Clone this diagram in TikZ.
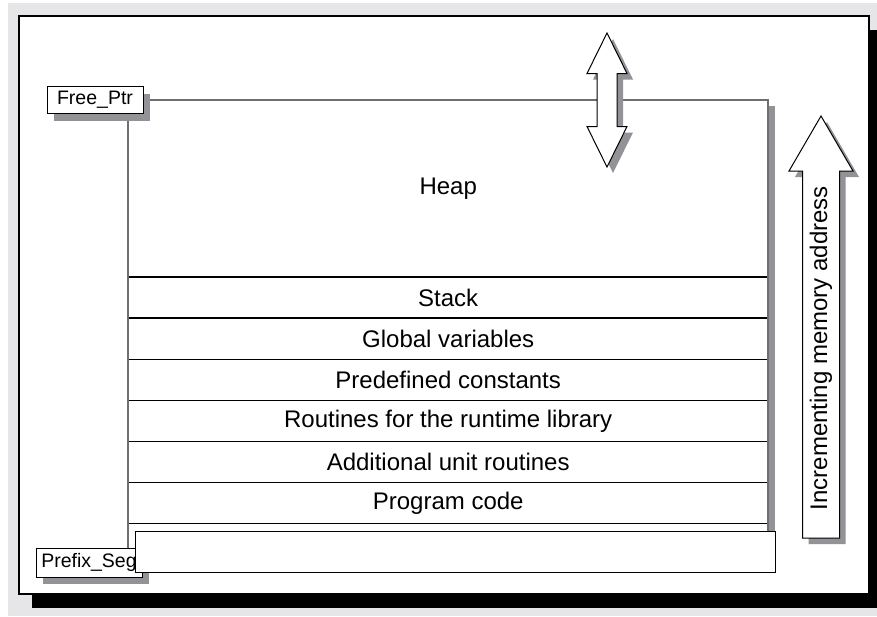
\documentclass[tikz,border=0pt]{standalone}
\usepackage{fontspec}
\setmainfont{Liberation Sans}
\usetikzlibrary{positioning,calc,shadows,backgrounds}
\definecolor{bggray}{HTML}{E6E6E8}
\definecolor{shadegray}{HTML}{939397}
\definecolor{edgegray}{HTML}{6E6E6E}

\begin{document}
\begin{tikzpicture}[x=1pt, y=-1pt,
  lbl/.style={font=\fontsize{24}{28}\selectfont},
  row/.style={lbl, minimum width=640pt, minimum height=40.75pt, inner sep=0pt},
  ptr/.style={draw, fill=white, line width=1pt, inner sep=0pt,
    font=\fontsize{19.5}{23}\selectfont,
    drop shadow={shadow xshift=7pt, shadow yshift=-7pt, fill=shadegray, opacity=1}},
  rowline/.style={line width=1.3pt},
  edge/.style={draw=edgegray, line width=2pt},
  bigarrow/.style={draw, fill=white, line width=1pt,
    drop shadow={shadow xshift=6pt, shadow yshift=-6pt, fill=shadegray, opacity=1}}]
\useasboundingbox (0,0) rectangle (877,616);
% memory layout
\node[row, minimum height=176.5pt, anchor=north west] (heap) at (128,100) {Heap};
\node[row, below=0pt of heap] (stack) {Stack};
\node[row, below=0pt of stack] (globals) {Global variables};
\node[row, below=0pt of globals] (consts) {Predefined constants};
\node[row, below=0pt of consts] (rtl) {Routines for the runtime library};
\node[row, below=0pt of rtl] (units) {Additional unit routines};
\node[row, below=0pt of units] (code) {Program code};
% pointers
\node[ptr, minimum width=96pt, minimum height=27pt] (free) at (95,100) {Free\_Ptr};
\node[ptr, minimum width=106pt, minimum height=29pt] (prefix) at (89,562.5) {Prefix\_Seg};
\node[row, draw, fill=white, line width=1pt, minimum height=41pt, anchor=north west]
  (psp) at ($(code.south west)+(7,7)$) {};
\begin{scope}[on background layer]
  \fill[bggray] (8,3) rectangle (877,616);
  \fill[black] (32,30) rectangle (890,608);
  \draw[fill=white, line width=1.5pt] (19,16) rectangle (869,594);
  \fill[shadegray] ($(heap.north east)+(0,6)$) rectangle ($(heap.north east |- psp.north)+(7,0)$);
  \draw[rowline] (stack.north west) -- (stack.north east);
  \draw[rowline] (globals.north west) -- (globals.north east);
  \draw[rowline] (consts.north west) -- (consts.north east);
  \draw[rowline] (rtl.north west) -- (rtl.north east);
  \draw[rowline] (units.north west) -- (units.north east);
  \draw[rowline] (code.north west) -- (code.north east);
  \draw[rowline] (code.south west) -- (code.south east);
  \draw[edge] (free.east) -- (heap.north east) -- (heap.north east |- psp.north);
  \draw[edge] (heap.north west |- free.south) -- (heap.north west |- prefix.north);
\end{scope}
% arrows
\draw[bigarrow] (607,33) -- (627,73.5) -- (617,73.5) -- (617,126.5) -- (627,126.5)
  -- (607,167) -- (587,126.5) -- (597,126.5) -- (597,73.5) -- (587,73.5) -- cycle;
\draw[bigarrow] (821,116) -- (853,171) -- (839.5,171) -- (839.5,538) -- (802.5,538)
  -- (802.5,171) -- (789,171) -- cycle;
\node[lbl, rotate=90] (incr) at (821,348) {Incrementing memory address};
\end{tikzpicture}
\end{document}
